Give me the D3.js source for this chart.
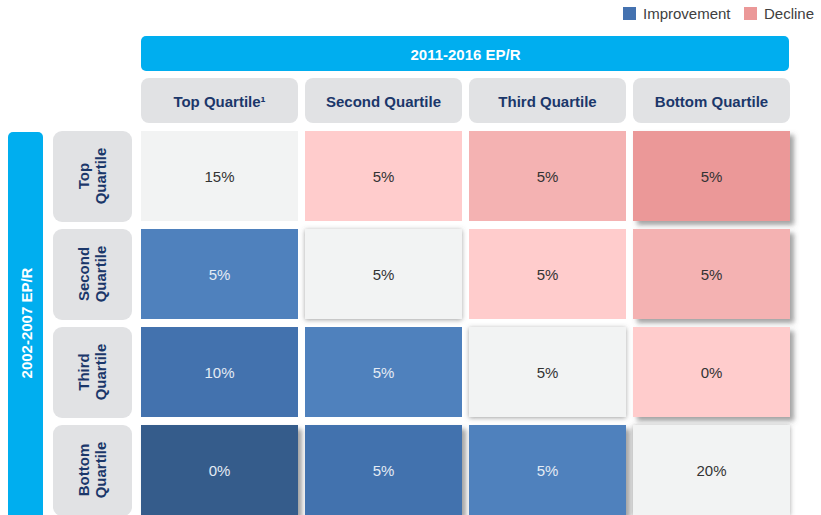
<!DOCTYPE html>
<html>
<head>
<meta charset="utf-8">
<script src="https://cdn.jsdelivr.net/npm/d3@7/dist/d3.min.js"></script>
<style>
  html, body { margin: 0; padding: 0; background: #ffffff; }
  svg { display: block; font-family: "Liberation Sans", Arial, sans-serif; }
</style>
</head>
<body>
<svg id="chart" width="821" height="515"></svg>
<script>
// ---- Data ----
const colTitle = "2011-2016 EP/R";
const rowTitle = "2002-2007 EP/R";
const colLabels = ["Top Quartile\u00B9", "Second Quartile", "Third Quartile", "Bottom Quartile"];
const rowLabels = [["Top", "Quartile"], ["Second", "Quartile"], ["Third", "Quartile"], ["Bottom", "Quartile"]];
const rowKeys = ["Top", "Second", "Third", "Bottom"];
const colKeys = ["Top", "Second", "Third", "Bottom"];
const valuesTop    = ["15%", "5%", "5%", "5%"];
const valuesSecond = ["5%", "5%", "5%", "5%"];
const valuesThird  = ["10%", "5%", "5%", "0%"];
const valuesBottom = ["0%", "5%", "5%", "20%"];
const values = [valuesTop, valuesSecond, valuesThird, valuesBottom];
const legendItems = ["Improvement", "Decline"];

// ---- Styles ----
const cellColors = {
  "-3": "#365c8b", "-2": "#4372ae", "-1": "#4f81bd",
  "0": "#f2f3f3",
  "1": "#ffcccc", "2": "#f4b2b2", "3": "#eb9898"
};
const legendColors = ["#4472b0", "#eb9898"];
const navy = "#1b376a";
const banner = "#00aeef";
const headerGray = "#e1e2e4";

const svg = d3.select("#chart");

// filters
const defs = svg.append("defs");
const f1 = defs.append("filter").attr("id", "shadow")
  .attr("x", "-10%").attr("y", "-10%").attr("width", "125%").attr("height", "130%");
f1.append("feDropShadow").attr("dx", 4).attr("dy", 4).attr("stdDeviation", 2.5)
  .attr("flood-color", "#555").attr("flood-opacity", 0.55);
const f2 = defs.append("filter").attr("id", "glow")
  .attr("x", "-10%").attr("y", "-15%").attr("width", "120%").attr("height", "135%");
f2.append("feDropShadow").attr("dx", 0).attr("dy", 1).attr("stdDeviation", 2.5)
  .attr("flood-color", "#555").attr("flood-opacity", 0.55);

// scales
const x = d3.scaleBand().domain(colKeys).range([141, 790]).paddingInner(7 / 164).paddingOuter(0);
const y = d3.scaleBand().domain(rowKeys).range([131, 515]).paddingInner(8 / 98).paddingOuter(0);

// top banner
svg.append("rect").attr("x", x.range()[0]).attr("y", 36)
  .attr("width", x.range()[1] - x.range()[0] - 1).attr("height", 35)
  .attr("rx", 5).attr("fill", banner);
svg.append("text").attr("x", (x.range()[0] + x.range()[1]) / 2).attr("y", 54)
  .attr("text-anchor", "middle").attr("dominant-baseline", "central")
  .attr("fill", "#ffffff").attr("font-weight", "bold").attr("font-size", 15)
  .text(colTitle);

// left banner
svg.append("rect").attr("x", 8).attr("y", 132).attr("width", 35).attr("height", 400)
  .attr("rx", 5).attr("fill", banner);
svg.append("text")
  .attr("transform", `translate(26,${(y.range()[0] + y.range()[1]) / 2}) rotate(-90)`)
  .attr("text-anchor", "middle").attr("dominant-baseline", "central")
  .attr("fill", "#ffffff").attr("font-weight", "bold").attr("font-size", 15)
  .text(rowTitle);

// column headers
const ch = svg.append("g").selectAll("g").data(colKeys).join("g");
ch.append("rect").attr("x", d => x(d)).attr("y", 78)
  .attr("width", x.bandwidth()).attr("height", 45).attr("rx", 8).attr("fill", headerGray);
ch.append("text").attr("x", d => x(d) + x.bandwidth() / 2).attr("y", 101)
  .attr("text-anchor", "middle").attr("dominant-baseline", "central")
  .attr("fill", navy).attr("font-weight", "bold").attr("font-size", 15)
  .text((d, i) => colLabels[i]);

// row headers
const rh = svg.append("g").selectAll("g").data(rowKeys).join("g");
rh.append("rect").attr("x", 53).attr("y", d => y(d))
  .attr("width", 79).attr("height", y.bandwidth() + 1).attr("rx", 9).attr("fill", headerGray);
rh.each(function (d, i) {
  const cy = y(d) + y.bandwidth() / 2;
  const t = d3.select(this).append("text")
    .attr("transform", `translate(92.5,${cy}) rotate(-90)`)
    .attr("text-anchor", "middle")
    .attr("fill", navy).attr("font-weight", "bold").attr("font-size", 15);
  rowLabels[i].forEach((line, k) => {
    t.append("tspan").attr("x", 0).attr("y", k === 0 ? -4 : 13).text(line);
  });
});

// cells
const cells = [];
values.forEach((row, r) => row.forEach((v, c) => cells.push({ r, c, v })));
// draw order: plain cells first, then shadowed ones
function filterFor(d) {
  if (d.r === d.c) return d.r === 0 ? null : "url(#glow)";
  if (d.c === 3 || d.r === 3) return "url(#shadow)";
  return null;
}
cells.sort((a, b) => (filterFor(a) ? 1 : 0) - (filterFor(b) ? 1 : 0));

const cg = svg.append("g").selectAll("g").data(cells).join("g");
cg.append("rect")
  .attr("x", d => x(colKeys[d.c])).attr("y", d => y(rowKeys[d.r]))
  .attr("width", x.bandwidth()).attr("height", y.bandwidth())
  .attr("fill", d => cellColors[String(d.c - d.r)])
  .attr("filter", d => filterFor(d));
cg.append("text")
  .attr("x", d => x(colKeys[d.c]) + x.bandwidth() / 2)
  .attr("y", d => y(rowKeys[d.r]) + y.bandwidth() / 2)
  .attr("text-anchor", "middle").attr("dominant-baseline", "central")
  .attr("font-size", 15)
  .attr("fill", d => d.c < d.r ? "#e4ebf4" : "#333333")
  .text(d => d.v);

// legend
const lg = svg.append("g");
const lx = [623, 744];
legendItems.forEach((name, i) => {
  lg.append("rect").attr("x", lx[i]).attr("y", 7).attr("width", 13).attr("height", 13)
    .attr("fill", legendColors[i]);
  lg.append("text").attr("x", lx[i] + 20).attr("y", 19)
    .attr("font-size", 15).attr("fill", "#404040").text(name);
});
</script>
</body>
</html>
